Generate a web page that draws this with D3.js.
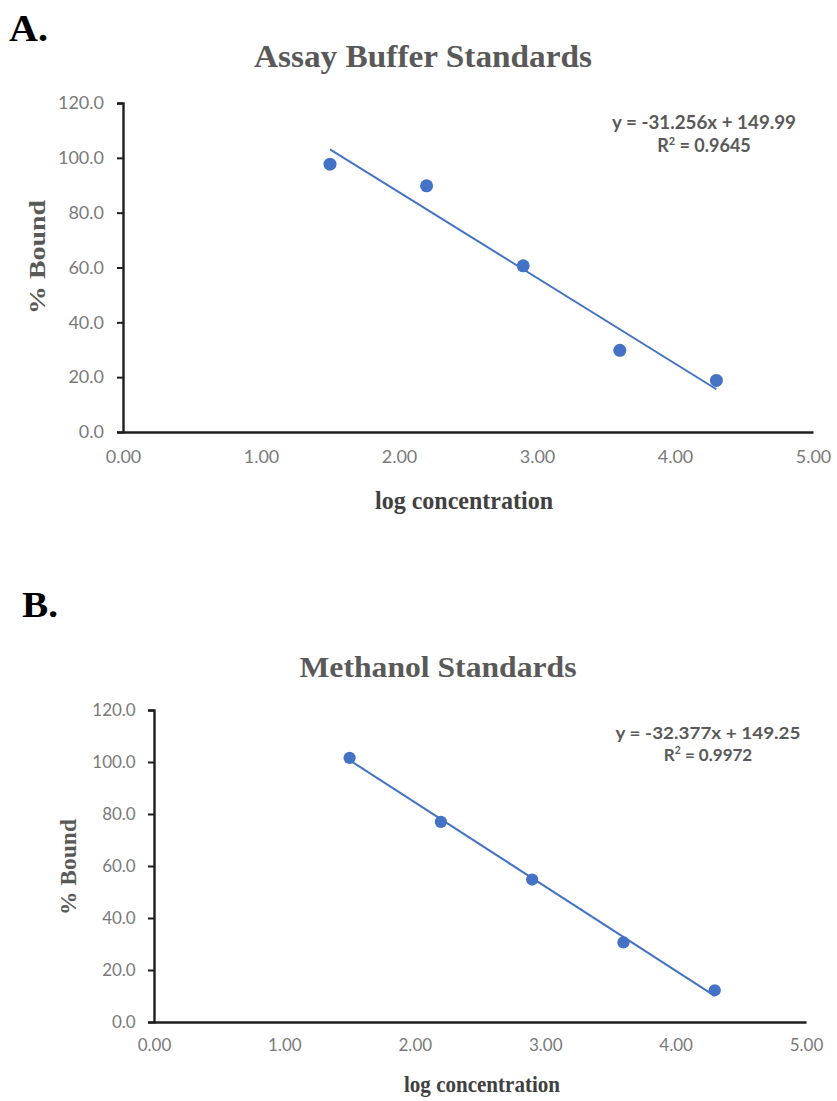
<!DOCTYPE html>
<html>
<head>
<meta charset="utf-8">
<script src="https://cdn.jsdelivr.net/npm/d3@7"></script>
<style>
  html, body { margin: 0; padding: 0; background: #fff; }
  svg { display: block; }
</style>
</head>
<body>
<svg id="chart" width="837" height="1101"></svg>
<script>
// ---- data ----
const logConcentration = [1.5, 2.2, 2.9, 3.6, 4.3];
const assayBufferBound = [97.7, 89.8, 60.6, 29.8, 18.8];
const methanolBound = [101.6, 77.0, 54.8, 30.6, 12.2];
const assayFit = [-31.256, 149.99];     // slope, intercept
const methanolFit = [-32.377, 149.25];  // slope, intercept
const assayR2 = "0.9645";
const methanolR2 = "0.9972";
const xTicks = [0, 1, 2, 3, 4, 5];
const yTicks = [0, 20, 40, 60, 80, 100, 120];
const panelLabels = ["A.", "B."];
const panelTitles = ["Assay Buffer Standards", "Methanol Standards"];
const xAxisTitle = "log concentration";
const yAxisTitle = "% Bound";

const svg = d3.select("#chart");
const blue = "#4472C4";
const serif = "'Liberation Serif', 'Times New Roman', serif";
const sans = "Lato, 'Open Sans', sans-serif";

const panels = [
  { label: panelLabels[0], title: panelTitles[0], ys: assayBufferBound, fit: assayFit, r2: assayR2,
    x0: 123, x1: 813, yb: 432, yt: 103, s: 1,
    labelPos: [9, 41], labelLen: 39, titlePos: [423, 67], titleLen: 338,
    eqPos: [704, 129], eqLen: 184, r2Len: 90,
    yTitlePos: [37, 257], yTitleLen: 114, xTitlePos: [464, 509], xTitleLen: 178 },
  { label: panelLabels[1], title: panelTitles[1], ys: methanolBound, fit: methanolFit, r2: methanolR2,
    x0: 154, x1: 806, yb: 1022, yt: 710, s: 0.945,
    labelPos: [22, 617], labelLen: 36, titlePos: [438, 677], titleLen: 277,
    eqPos: [708, 739], eqLen: 185, r2Len: 90,
    yTitlePos: [68, 867], yTitleLen: 96, xTitlePos: [482, 1092], xTitleLen: 156 }
];

panels.forEach(p => {
  const g = svg.append("g");
  const x = d3.scaleLinear().domain([0, 5]).range([p.x0, p.x1]);
  const y = d3.scaleLinear().domain([0, 120]).range([p.yb, p.yt]);
  const fs = p.s;

  // panel label
  g.append("text").attr("x", p.labelPos[0]).attr("y", p.labelPos[1])
    .attr("font-family", serif).attr("font-weight", "bold").attr("font-size", 38 * fs)
    .attr("textLength", p.labelLen).attr("lengthAdjust", "spacingAndGlyphs")
    .attr("fill", "#000").text(p.label);

  // title
  g.append("text").attr("x", p.titlePos[0]).attr("y", p.titlePos[1])
    .attr("text-anchor", "middle").attr("font-family", serif).attr("font-weight", "bold")
    .attr("font-size", 32 * fs).attr("fill", "#595959")
    .attr("textLength", p.titleLen).attr("lengthAdjust", "spacingAndGlyphs")
    .text(p.title);

  // y axis
  const yAxis = g.append("g").attr("transform", `translate(${p.x0},0)`)
    .call(d3.axisLeft(y).tickValues(yTicks).tickFormat(d3.format(".1f")).tickSize(6).tickPadding(13 * fs));
  yAxis.select(".domain").attr("stroke", "#1f1f1f").attr("stroke-width", 2.4);
  yAxis.selectAll(".tick line").attr("stroke", "#1f1f1f").attr("stroke-width", 2);
  yAxis.selectAll(".tick text").attr("font-family", sans).attr("font-size", 18 * fs).attr("fill", "#7a7a7a");

  // x axis
  const xAxis = g.append("g").attr("transform", `translate(0,${p.yb})`)
    .call(d3.axisBottom(x).tickValues(xTicks).tickFormat(d3.format(".2f")).tickSize(0).tickPadding(18 * fs));
  xAxis.select(".domain").attr("stroke", "#1f1f1f").attr("stroke-width", 2.4);
  xAxis.selectAll(".tick text").attr("font-family", sans).attr("font-size", 18 * fs).attr("fill", "#7a7a7a");

  // axis titles
  g.append("text").attr("x", p.xTitlePos[0]).attr("y", p.xTitlePos[1])
    .attr("text-anchor", "middle").attr("font-family", serif).attr("font-weight", "bold")
    .attr("font-size", 25 * fs).attr("fill", "#404040")
    .attr("textLength", p.xTitleLen).attr("lengthAdjust", "spacingAndGlyphs")
    .text(xAxisTitle);
  g.append("text")
    .attr("transform", `translate(${p.yTitlePos[0]},${p.yTitlePos[1]}) rotate(-90)`)
    .attr("text-anchor", "middle").attr("dominant-baseline", "central")
    .attr("font-family", serif).attr("font-weight", "bold")
    .attr("font-size", 24 * fs).attr("fill", "#595959")
    .attr("textLength", p.yTitleLen).attr("lengthAdjust", "spacingAndGlyphs")
    .text(yAxisTitle);

  // trendline
  const xs = d3.extent(logConcentration);
  const fitLine = xs.map(v => [v, p.fit[0] * v + p.fit[1]]);
  g.append("path").datum(fitLine)
    .attr("d", d3.line().x(d => x(d[0])).y(d => y(d[1])))
    .attr("stroke", blue).attr("stroke-width", 2).attr("fill", "none");

  // points
  g.selectAll("circle.pt").data(logConcentration.map((v, i) => [v, p.ys[i]]))
    .join("circle").attr("class", "pt")
    .attr("cx", d => x(d[0])).attr("cy", d => y(d[1]))
    .attr("r", 6.5 * fs).attr("fill", blue);

  // equation
  const slope = p.fit[0], icpt = p.fit[1];
  g.append("text").attr("x", p.eqPos[0]).attr("y", p.eqPos[1])
    .attr("text-anchor", "middle").attr("font-family", sans).attr("font-weight", "bold")
    .attr("font-size", 18 * fs).attr("fill", "#595959")
    .attr("textLength", p.eqLen).attr("lengthAdjust", "spacingAndGlyphs")
    .text(`y = ${slope.toFixed(3)}x + ${icpt.toFixed(2)}`);
  const r2 = g.append("text").attr("x", p.eqPos[0]).attr("y", p.eqPos[1] + 23 * fs)
    .attr("text-anchor", "middle").attr("font-family", sans).attr("font-weight", "bold")
    .attr("font-size", 18 * fs).attr("fill", "#595959");
  r2.append("tspan").text("R");
  r2.append("tspan").attr("font-size", 11 * fs).attr("dy", -7 * fs).text("2");
  r2.append("tspan").attr("dy", 7 * fs).text(` = ${p.r2}`);
});
</script>
</body>
</html>
